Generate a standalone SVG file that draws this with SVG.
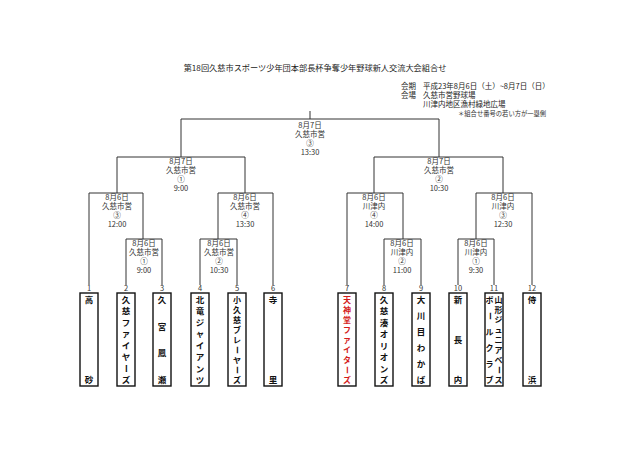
<svg xmlns="http://www.w3.org/2000/svg" width="640" height="452" viewBox="0 0 640 452">
<style>
.ln{fill:none;stroke:#333;stroke-width:1}
.bx{fill:#fff;stroke:#111;stroke-width:1.4}
text{font-family:'Noto Sans CJK JP','Noto Sans',sans-serif}
.m{font-size:7.5px;fill:#333;text-anchor:middle}
.n{font-size:7.5px;fill:#333;text-anchor:middle}
.c{font-size:8.5px;font-weight:bold;fill:#111;text-anchor:middle}
.s{font-size:8px}
.r{fill:#d41c1c}
.h{font-size:8.2px;fill:#222}
.i{font-size:7.5px;fill:#222}
.f{font-size:6.3px;fill:#333}
</style>
<rect width="640" height="452" fill="#fff"/>
<g id="header">
<text class="h" x="315" y="71" text-anchor="middle">第18回久慈市スポーツ少年団本部長杯争奪少年野球新人交流大会組合せ</text>
<text class="i" x="401" y="89">会期</text>
<text class="i" x="423" y="89">平成23年8月6日（土）~8月7日（日）</text>
<text class="i" x="401" y="98">会場</text>
<text class="i" x="423" y="98">久慈市営野球場</text>
<text class="i" x="423" y="107">川津内地区漁村緑地広場</text>
<text class="f" x="458" y="116">＊組合せ番号の若い方が一塁側</text>
</g>
<g id="connectors">
<path class="ln" d="M310,111V119M181,157V119H439V157"/>
<path class="ln" d="M117,193V157H245V193"/>
<path class="ln" d="M374,193V157H503V193"/>
<path class="ln" d="M89,285V193H143V239"/>
<path class="ln" d="M126,285V239H162V285"/>
<path class="ln" d="M218,239V193H273V285"/>
<path class="ln" d="M200,285V239H237V285"/>
<path class="ln" d="M347,285V193H403V239"/>
<path class="ln" d="M384,285V239H421V285"/>
<path class="ln" d="M476,239V193H532V285"/>
<path class="ln" d="M458,285V239H494V285"/>
</g>
<g id="match-final">
<text class="m" x="310" y="128">8月7日</text><text class="m" x="310" y="137">久慈市営</text><text class="m" x="310" y="146">③</text><text class="m" x="310" y="155">13:30</text>
</g>
<g id="match-semi-left">
<text class="m" x="181" y="164">8月7日</text><text class="m" x="181" y="173">久慈市営</text><text class="m" x="181" y="182">①</text><text class="m" x="181" y="191">9:00</text>
</g>
<g id="match-semi-right">
<text class="m" x="439" y="164">8月7日</text><text class="m" x="439" y="173">久慈市営</text><text class="m" x="439" y="182">②</text><text class="m" x="439" y="191">10:30</text>
</g>
<g id="match-q1">
<text class="m" x="117" y="200">8月6日</text><text class="m" x="117" y="209">久慈市営</text><text class="m" x="117" y="218">③</text><text class="m" x="117" y="227">12:00</text>
</g>
<g id="match-q2">
<text class="m" x="245" y="200">8月6日</text><text class="m" x="245" y="209">久慈市営</text><text class="m" x="245" y="218">④</text><text class="m" x="245" y="227">13:30</text>
</g>
<g id="match-q3">
<text class="m" x="374" y="200">8月6日</text><text class="m" x="374" y="209">川津内</text><text class="m" x="374" y="218">④</text><text class="m" x="374" y="227">14:00</text>
</g>
<g id="match-q4">
<text class="m" x="503" y="200">8月6日</text><text class="m" x="503" y="209">川津内</text><text class="m" x="503" y="218">③</text><text class="m" x="503" y="227">12:30</text>
</g>
<g id="match-r1">
<text class="m" x="144" y="246">8月6日</text><text class="m" x="144" y="255">久慈市営</text><text class="m" x="144" y="264">①</text><text class="m" x="144" y="273">9:00</text>
</g>
<g id="match-r2">
<text class="m" x="219" y="246">8月6日</text><text class="m" x="219" y="255">久慈市営</text><text class="m" x="219" y="264">②</text><text class="m" x="219" y="273">10:30</text>
</g>
<g id="match-r3">
<text class="m" x="402" y="246">8月6日</text><text class="m" x="402" y="255">川津内</text><text class="m" x="402" y="264">②</text><text class="m" x="402" y="273">11:00</text>
</g>
<g id="match-r4">
<text class="m" x="476" y="246">8月6日</text><text class="m" x="476" y="255">川津内</text><text class="m" x="476" y="264">①</text><text class="m" x="476" y="273">9:30</text>
</g>
<g id="team1">
<rect class="bx" x="80" y="293" width="18" height="93"/>
<text class="n" x="89" y="291">1</text>
<text class="c" x="89" y="303">高</text><text class="c" x="89" y="383">砂</text>
</g>
<g id="team2">
<rect class="bx" x="117" y="293" width="18" height="93"/>
<text class="n" x="126" y="291">2</text>
<text class="c" x="126" y="303">久</text><text class="c" x="126" y="314.4">慈</text><text class="c" x="126" y="325.9">フ</text><text class="c" x="126" y="337.3">ァ</text><text class="c" x="126" y="348.7">イ</text><text class="c" x="126" y="360.1">ヤ</text><text class="c" x="126" y="371.6" transform="rotate(90 126 368.6)">ー</text><text class="c" x="126" y="383">ズ</text>
</g>
<g id="team3">
<rect class="bx" x="153" y="293" width="18" height="93"/>
<text class="n" x="162" y="291">3</text>
<text class="c" x="162" y="303">久</text><text class="c" x="162" y="329.7">宮</text><text class="c" x="162" y="356.3">鳳</text><text class="c" x="162" y="383">瀬</text>
</g>
<g id="team4">
<rect class="bx" x="191" y="293" width="18" height="93"/>
<text class="n" x="200" y="291">4</text>
<text class="c" x="200" y="303">北</text><text class="c" x="200" y="314.4">竜</text><text class="c" x="200" y="325.9">ジ</text><text class="c" x="200" y="337.3">ャ</text><text class="c" x="200" y="348.7">イ</text><text class="c" x="200" y="360.1">ア</text><text class="c" x="200" y="371.6">ン</text><text class="c" x="200" y="383">ツ</text>
</g>
<g id="team5">
<rect class="bx" x="228" y="293" width="18" height="93"/>
<text class="n" x="237" y="291">5</text>
<text class="c s" x="237" y="303">小</text><text class="c s" x="237" y="313">久</text><text class="c s" x="237" y="323">慈</text><text class="c s" x="237" y="333">ブ</text><text class="c s" x="237" y="343">レ</text><text class="c s" x="237" y="353" transform="rotate(90 237 350)">ー</text><text class="c s" x="237" y="363">ヤ</text><text class="c s" x="237" y="373" transform="rotate(90 237 370)">ー</text><text class="c s" x="237" y="383">ズ</text>
</g>
<g id="team6">
<rect class="bx" x="264" y="293" width="18" height="93"/>
<text class="n" x="273" y="291">6</text>
<text class="c" x="273" y="303">寺</text><text class="c" x="273" y="383">里</text>
</g>
<g id="team7">
<rect class="bx" x="338" y="293" width="18" height="93"/>
<text class="n" x="347" y="291">7</text>
<text class="c s r" x="347" y="303">天</text><text class="c s r" x="347" y="313">神</text><text class="c s r" x="347" y="323">堂</text><text class="c s r" x="347" y="333">フ</text><text class="c s r" x="347" y="343">ァ</text><text class="c s r" x="347" y="353">イ</text><text class="c s r" x="347" y="363">タ</text><text class="c s r" x="347" y="373" transform="rotate(90 347 370)">ー</text><text class="c s r" x="347" y="383">ズ</text>
</g>
<g id="team8">
<rect class="bx" x="375" y="293" width="18" height="93"/>
<text class="n" x="384" y="291">8</text>
<text class="c" x="384" y="303">久</text><text class="c" x="384" y="314.4">慈</text><text class="c" x="384" y="325.9">湊</text><text class="c" x="384" y="337.3">オ</text><text class="c" x="384" y="348.7">リ</text><text class="c" x="384" y="360.1">オ</text><text class="c" x="384" y="371.6">ン</text><text class="c" x="384" y="383">ズ</text>
</g>
<g id="team9">
<rect class="bx" x="412" y="293" width="18" height="93"/>
<text class="n" x="421" y="291">9</text>
<text class="c" x="421" y="303">大</text><text class="c" x="421" y="319">川</text><text class="c" x="421" y="335">目</text><text class="c" x="421" y="351">わ</text><text class="c" x="421" y="367">か</text><text class="c" x="421" y="383">ば</text>
</g>
<g id="team10">
<rect class="bx" x="449" y="293" width="18" height="93"/>
<text class="n" x="458" y="291">10</text>
<text class="c" x="458" y="303">新</text><text class="c" x="458" y="343">長</text><text class="c" x="458" y="383">内</text>
</g>
<g id="team11">
<rect class="bx" x="485" y="293" width="18" height="93"/>
<text class="n" x="494" y="291">11</text>
<text class="c s" x="498.5" y="303">山</text><text class="c s" x="498.5" y="313">形</text><text class="c s" x="498.5" y="323">ジ</text><text class="c s" x="498.5" y="333">ュ</text><text class="c s" x="498.5" y="343">ニ</text><text class="c s" x="498.5" y="353">ア</text><text class="c s" x="498.5" y="363">ベ</text><text class="c s" x="498.5" y="373" transform="rotate(90 498.5 370)">ー</text><text class="c s" x="498.5" y="383">ス</text>
<text class="c s" x="489.5" y="303">ボ</text><text class="c s" x="489.5" y="319" transform="rotate(90 489.5 316)">ー</text><text class="c s" x="489.5" y="335">ル</text><text class="c s" x="489.5" y="351">ク</text><text class="c s" x="489.5" y="367">ラ</text><text class="c s" x="489.5" y="383">ブ</text>
</g>
<g id="team12">
<rect class="bx" x="523" y="293" width="18" height="93"/>
<text class="n" x="532" y="291">12</text>
<text class="c" x="532" y="303">侍</text><text class="c" x="532" y="383">浜</text>
</g>
</svg>
